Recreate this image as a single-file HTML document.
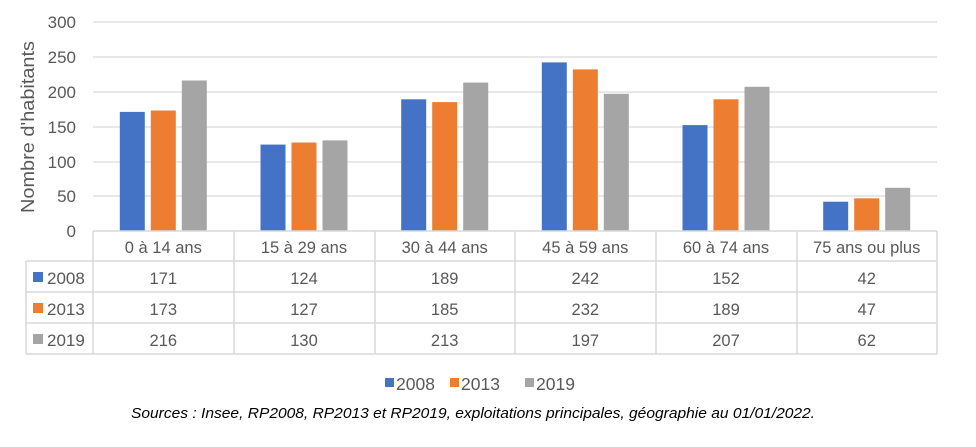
<!DOCTYPE html>
<html><head><meta charset="utf-8"><style>
body{margin:0;background:#fff}
svg{display:block;font-family:"Liberation Sans",sans-serif}
</style></head><body>
<svg width="976" height="447" viewBox="0 0 976 447" xmlns="http://www.w3.org/2000/svg">
<g stroke="#d9d9d9" stroke-width="1.3">
<line x1="93" y1="22" x2="937" y2="22"/><line x1="93" y1="57" x2="937" y2="57"/><line x1="93" y1="92" x2="937" y2="92"/><line x1="93" y1="127" x2="937" y2="127"/><line x1="93" y1="162" x2="937" y2="162"/><line x1="93" y1="196" x2="937" y2="196"/>
</g>
<g fill="#595959" font-size="17" text-anchor="end">
<text x="76" y="28">300</text><text x="76" y="63">250</text><text x="76" y="98">200</text><text x="76" y="133">150</text><text x="76" y="168">100</text><text x="76" y="202">50</text><text x="76" y="237">0</text>
</g>
<text transform="translate(34,127) rotate(-90)" fill="#595959" font-size="18" text-anchor="middle" textLength="172" lengthAdjust="spacingAndGlyphs">Nombre d'habitants</text>
<g>
<rect x="119.8" y="111.9" width="25" height="119.1" fill="#4472C4"/><rect x="150.8" y="110.5" width="25" height="120.5" fill="#ED7D31"/><rect x="181.8" y="80.5" width="25" height="150.5" fill="#A5A5A5"/>
<rect x="260.5" y="144.6" width="25" height="86.4" fill="#4472C4"/><rect x="291.5" y="142.5" width="25" height="88.5" fill="#ED7D31"/><rect x="322.5" y="140.4" width="25" height="90.6" fill="#A5A5A5"/>
<rect x="401.2" y="99.3" width="25" height="131.7" fill="#4472C4"/><rect x="432.2" y="102.1" width="25" height="128.9" fill="#ED7D31"/><rect x="463.2" y="82.6" width="25" height="148.4" fill="#A5A5A5"/>
<rect x="541.8" y="62.4" width="25" height="168.6" fill="#4472C4"/><rect x="572.8" y="69.4" width="25" height="161.6" fill="#ED7D31"/><rect x="603.8" y="93.8" width="25" height="137.2" fill="#A5A5A5"/>
<rect x="682.5" y="125.1" width="25" height="105.9" fill="#4472C4"/><rect x="713.5" y="99.3" width="25" height="131.7" fill="#ED7D31"/><rect x="744.5" y="86.8" width="25" height="144.2" fill="#A5A5A5"/>
<rect x="823.2" y="201.7" width="25" height="29.3" fill="#4472C4"/><rect x="854.2" y="198.3" width="25" height="32.7" fill="#ED7D31"/><rect x="885.2" y="187.8" width="25" height="43.2" fill="#A5A5A5"/>
</g>
<g stroke="#d9d9d9" stroke-width="1.5" fill="none">
<line x1="93" y1="231" x2="937" y2="231"/>
<line x1="26" y1="261" x2="937" y2="261"/><line x1="26" y1="292" x2="937" y2="292"/><line x1="26" y1="323" x2="937" y2="323"/><line x1="26" y1="354" x2="937" y2="354"/>
<line x1="26" y1="261" x2="26" y2="354"/>
<line x1="93" y1="231" x2="93" y2="354"/><line x1="234" y1="231" x2="234" y2="354"/><line x1="375" y1="231" x2="375" y2="354"/><line x1="515" y1="231" x2="515" y2="354"/><line x1="656" y1="231" x2="656" y2="354"/><line x1="797" y1="231" x2="797" y2="354"/><line x1="937" y1="231" x2="937" y2="354"/>
</g>
<g fill="#595959" font-size="16.5" text-anchor="middle">
<text x="163.3" y="253">0 à 14 ans</text><text x="304" y="253">15 à 29 ans</text><text x="444.7" y="253">30 à 44 ans</text><text x="585.3" y="253">45 à 59 ans</text><text x="726" y="253">60 à 74 ans</text><text x="866.7" y="253">75 ans ou plus</text>
<text x="163.3" y="284">171</text><text x="304" y="284">124</text><text x="444.7" y="284">189</text><text x="585.3" y="284">242</text><text x="726" y="284">152</text><text x="866.7" y="284">42</text>
<text x="163.3" y="315">173</text><text x="304" y="315">127</text><text x="444.7" y="315">185</text><text x="585.3" y="315">232</text><text x="726" y="315">189</text><text x="866.7" y="315">47</text>
<text x="163.3" y="346">216</text><text x="304" y="346">130</text><text x="444.7" y="346">213</text><text x="585.3" y="346">197</text><text x="726" y="346">207</text><text x="866.7" y="346">62</text>
</g>
<rect x="33" y="272" width="10" height="10" fill="#4472C4"/><rect x="33" y="303" width="10" height="10" fill="#ED7D31"/><rect x="33" y="334" width="10" height="10" fill="#A5A5A5"/>
<g fill="#595959" font-size="17">
<text x="47" y="284">2008</text><text x="47" y="315">2013</text><text x="47" y="346">2019</text>
</g>
<rect x="385" y="378" width="9" height="9" fill="#4472C4"/><rect x="450" y="378" width="9" height="9" fill="#ED7D31"/><rect x="525" y="378" width="9" height="9" fill="#A5A5A5"/>
<g fill="#595959" font-size="17.5">
<text x="396" y="390">2008</text><text x="461" y="390">2013</text><text x="536" y="390">2019</text>
</g>
<text x="131" y="418" font-size="15" font-style="italic" fill="#000" textLength="684" lengthAdjust="spacingAndGlyphs">Sources : Insee, RP2008, RP2013 et RP2019, exploitations principales, géographie au 01/01/2022.</text>
</svg>
</body></html>
